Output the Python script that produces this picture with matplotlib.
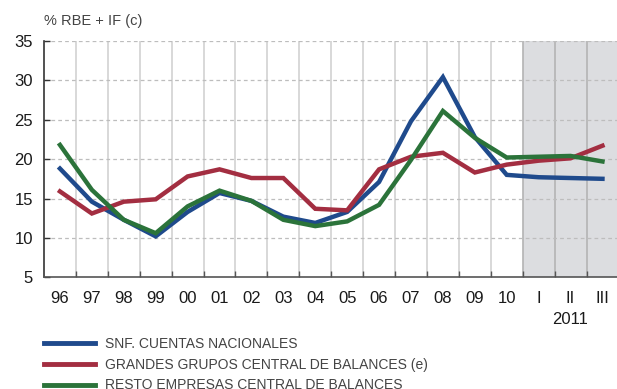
import matplotlib.pyplot as plt
from matplotlib.lines import Line2D

plt.rcParams['font.family'] = ['Liberation Sans', 'DejaVu Sans']

categories = ['96', '97', '98', '99', '00', '01', '02', '03', '04', '05',
              '06', '07', '08', '09', '10', 'I', 'II', 'III']

snf_cn = [18.8, 14.6, 12.3, 10.2, 13.3, 15.7, 14.7, 12.7, 11.9, 13.3,
          17.1, 24.8, 30.4, 22.8, 18.0, 17.7, 17.6, 17.5]
grandes_grupos = [15.9, 13.1, 14.6, 14.9, 17.8, 18.7, 17.6, 17.6, 13.7, 13.5,
                  18.7, 20.3, 20.8, 18.3, 19.3, 19.8, 20.1, 21.7]
resto_empresas = [21.8, 16.1, 12.3, 10.6, 14.0, 16.0, 14.7, 12.3, 11.5, 12.1,
                  14.2, 19.9, 26.1, 22.7, 20.2, 20.3, 20.4, 19.7]

series_labels = ['SNF. CUENTAS NACIONALES',
                 'GRANDES GRUPOS CENTRAL DE BALANCES (e)',
                 'RESTO EMPRESAS CENTRAL DE BALANCES']
colors = ['#1f4a8c', '#a32e41', '#2b733a']

fig = plt.figure(figsize=(6.17, 3.89), dpi=100)
ax = fig.add_axes([0.0713, 0.287, 0.931, 0.608])

x = list(range(len(categories)))

# shaded quarterly block for 2011
ax.axvspan(14.5, 17.5, color='#dcdde0', zorder=0)

# vertical separators between categories
for b in range(1, len(categories)):
    c = '#b4b4b4' if b > 14 else '#d2d2d2'
    ax.axvline(b - 0.5, color=c, lw=1.2, zorder=1)

for yv in [10, 15, 20, 25, 30, 35]:
    ax.axhline(yv, color='#bdbdbd', lw=0.9, ls=(0, (3, 2.5)), zorder=1)

for vals, col in zip([snf_cn, grandes_grupos, resto_empresas], colors):
    ax.plot(x, vals, color=col, lw=3.2, solid_joinstyle='miter', zorder=3)

ax.set_xlim(-0.5, 17.5)
ax.set_ylim(5, 35)
ax.set_yticks([5, 10, 15, 20, 25, 30, 35])
ax.set_xticks([b - 0.5 for b in range(1, len(categories))])
ax.set_xticklabels([])
ax.tick_params(axis='x', direction='in', length=4, width=1, color='#555555')
ax.tick_params(axis='y', direction='in', length=4, width=1, color='#333333',
               labelsize=12, pad=8, labelcolor='#1a1a1a')
for i, lab in enumerate(categories):
    ax.text(i, 2.3, lab, ha='center', va='center', fontsize=12,
            color='#1a1a1a', clip_on=False)
ax.text(16, -0.4, '2011', ha='center', va='center', fontsize=12,
        color='#1a1a1a', clip_on=False)

for s in ['top', 'right']:
    ax.spines[s].set_visible(False)
ax.spines['left'].set_color('#333333')
ax.spines['bottom'].set_color('#555555')
ax.spines['left'].set_linewidth(1.2)
ax.spines['bottom'].set_linewidth(1.2)

fig.text(0.0713, 0.945, '% RBE + IF (c)', fontsize=10.5, color='#444444',
         ha='left', va='center')

handles = [Line2D([], [], color=c, lw=3.5) for c in colors]
fig.legend(handles, series_labels, loc='upper left',
           bbox_to_anchor=(0.062, 0.149), frameon=False,
           prop={'size': 10},
           handlelength=3.7, handletextpad=0.7, labelspacing=0.5,
           labelcolor='#444444', borderaxespad=0)

fig.savefig('out.png', dpi=100)
